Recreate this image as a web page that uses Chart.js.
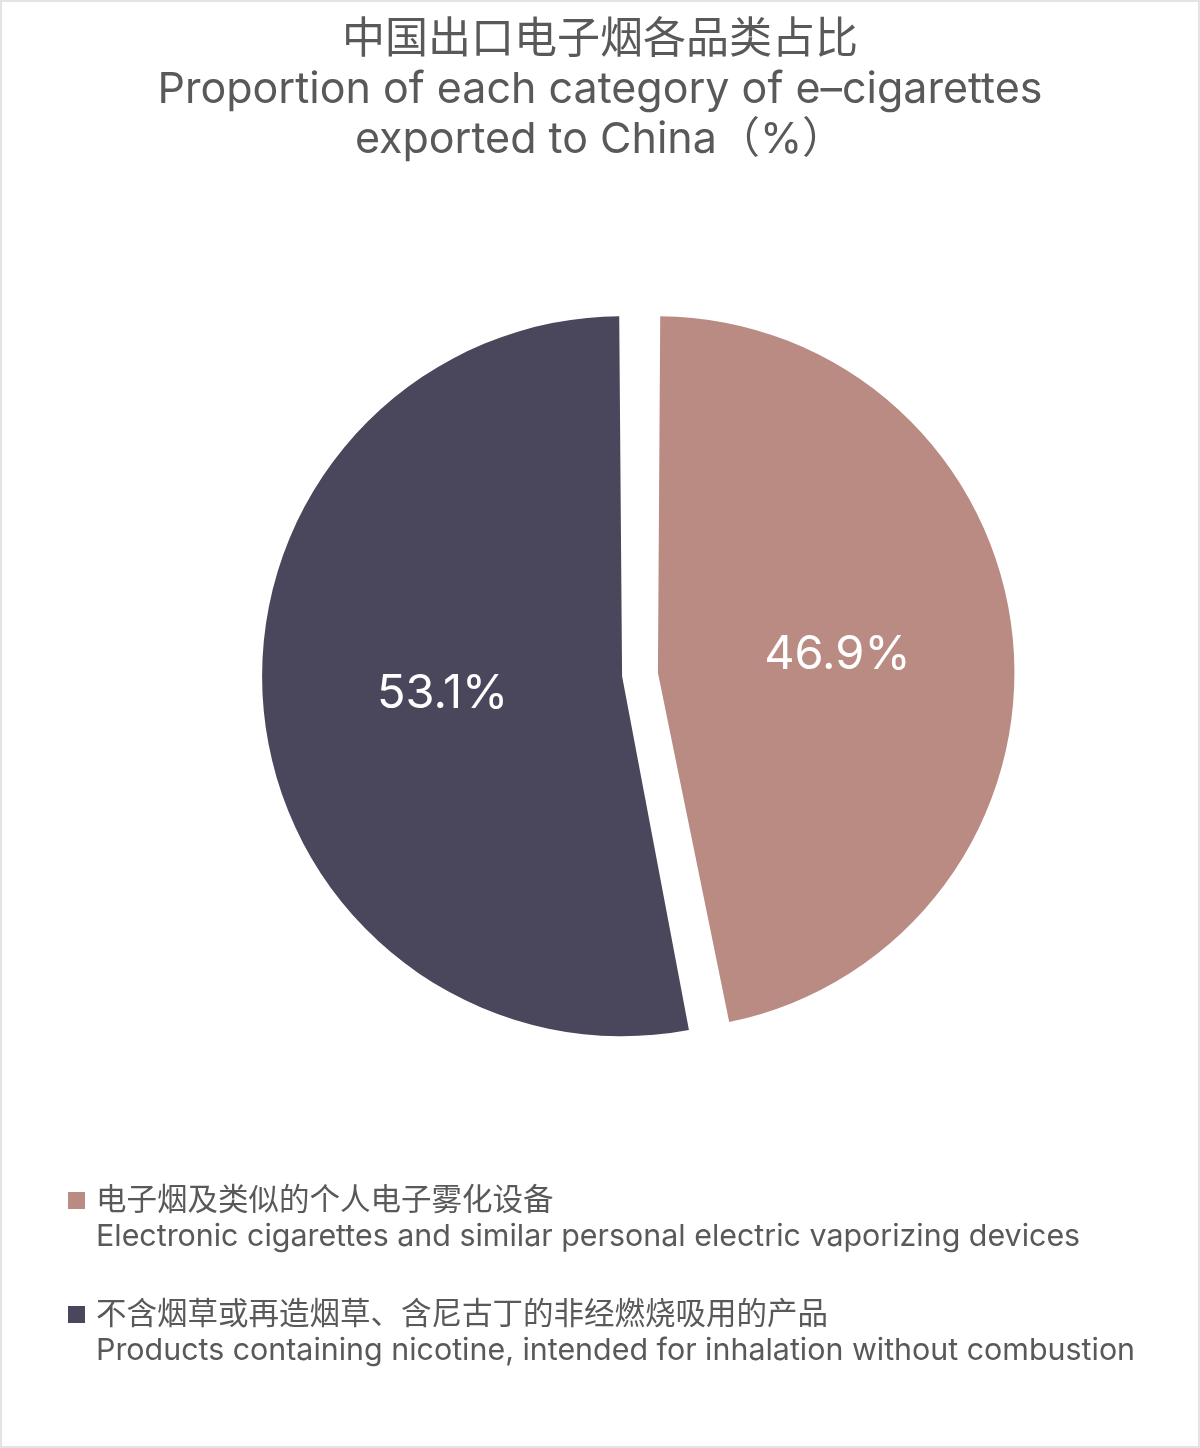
<!DOCTYPE html>
<html>
<head>
<meta charset="utf-8">
<script src="https://cdn.jsdelivr.net/npm/chart.js@4"></script>
<style>
  html, body { margin: 0; padding: 0; background: #fff; }
  body {
    width: 1200px; height: 1448px; position: relative; overflow: hidden;
    box-sizing: border-box; border: 2px solid #e4e4e4;
    font-family: Inter, "Noto Sans CJK SC", sans-serif; color: #595959;
  }
  #title {
    position: absolute; left: 0; right: 0; top: 10px;
    text-align: center; font-size: 43px; line-height: 50px;
  }
  #wrap { position: absolute; left: 0; top: 0; width: 1200px; height: 1448px; }
  #legend { position: absolute; left: 66px; top: 1178px; font-size: 30.4px; line-height: 37px; }
  .item { position: relative; padding-left: 28px; margin-bottom: 40px; }
  .item .zh { font-size: 30.5px; }
  .box { position: absolute; left: 0; top: 12px; width: 17px; height: 17px; }
</style>
</head>
<body>
<div id="wrap"><canvas id="chart-pie"></canvas></div>
<div id="title"></div>
<div id="legend"></div>
<script>
const titleZh = '中国出口电子烟各品类占比';
const titleEn = ['Proportion of each category of e–cigarettes', 'exported to China（%）'];
const categoriesZh = ['电子烟及类似的个人电子雾化设备', '不含烟草或再造烟草、含尼古丁的非经燃烧吸用的产品'];
const categoriesEn = ['Electronic cigarettes and similar personal electric vaporizing devices', 'Products containing nicotine, intended for inhalation without combustion'];
const shares = [46.9, 53.1];
const sliceColors = ['#B98B82', '#4A475C'];

document.getElementById('title').innerHTML =
  `<div>${titleZh}</div>` + titleEn.map(t => `<div>${t}</div>`).join('');

document.getElementById('legend').innerHTML = categoriesZh.map((zh, i) => `
  <div class="item">
    <span class="box" style="background:${sliceColors[i]}"></span>
    <div class="zh">${zh}</div>
    <div>${categoriesEn[i]}</div>
  </div>`).join('');

// percentage labels, roughly halfway out along each slice
const sliceLabels = {
  id: 'sliceLabels',
  afterDatasetsDraw(chart) {
    const { ctx } = chart;
    const meta = chart.getDatasetMeta(0);
    ctx.save();
    ctx.fillStyle = '#ffffff';
    ctx.font = '47px Inter, "Noto Sans CJK SC", sans-serif';
    ctx.textAlign = 'center';
    ctx.textBaseline = 'middle';
    meta.data.forEach((arc, i) => {
      const mid = (arc.startAngle + arc.endAngle) / 2;
      const r = arc.outerRadius * 0.58;
      ctx.fillText(shares[i].toFixed(1) + '%', arc.x + Math.cos(mid) * r, arc.y + Math.sin(mid) * r);
    });
    ctx.restore();
  }
};

new Chart(document.getElementById('chart-pie'), {
  type: 'pie',
  data: {
    labels: categoriesEn,
    datasets: [{
      data: shares,
      backgroundColor: sliceColors,
      borderWidth: 0,
      offset: 72,
      radius: 342
    }]
  },
  options: {
    responsive: true,
    maintainAspectRatio: false,
    animation: false,
    layout: { padding: { left: 278, right: 202, top: 312, bottom: 415 } },
    plugins: {
      legend: { display: false },
      tooltip: { enabled: false }
    }
  },
  plugins: [sliceLabels]
});
</script>
</body>
</html>
